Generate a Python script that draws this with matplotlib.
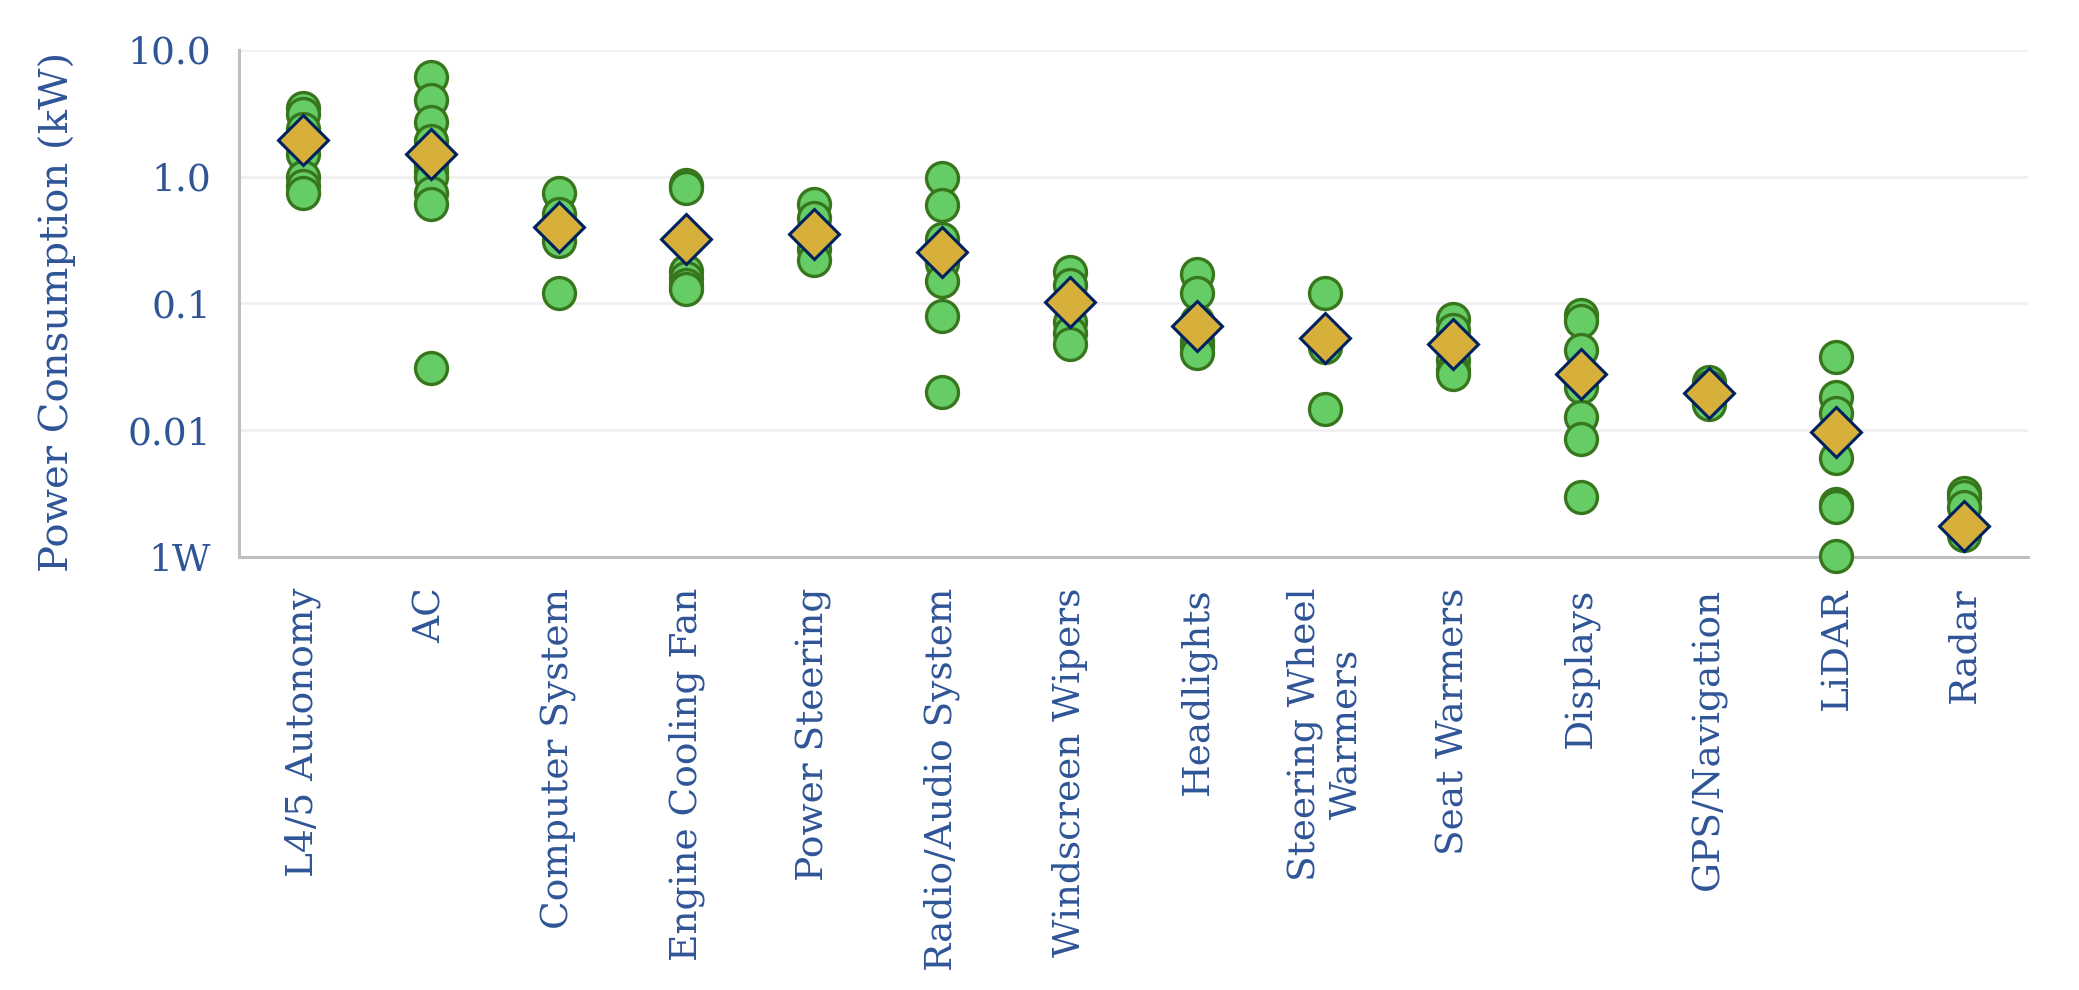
"""
Vehicle subsystem power draw, log scale.

Green circles are individual estimates for each subsystem, the gold
diamond is the central (average) value used in the model.
"""

import matplotlib
matplotlib.use("Agg")
import matplotlib.pyplot as plt

TEXT_BLUE   = "#2F5597"
DOT_FILL    = "#66CC66"
DOT_EDGE    = "#38761D"
AVG_FILL    = "#D6B03A"
AVG_EDGE    = "#002060"
GRID_GREY   = "#F0F0F0"
SPINE_GREY  = "#BFBFBF"

plt.rcParams["font.family"] = ["DejaVu Serif"]

categories = [
    "L4/5 Autonomy", "AC", "Computer System", "Engine Cooling Fan",
    "Power Steering", "Radio/Audio System", "Windscreen Wipers",
    "Headlights", "Steering Wheel\nWarmers", "Seat Warmers", "Displays",
    "GPS/Navigation", "LiDAR", "Radar",
]

# individual estimates (kW)
l45_autonomy   = [3.5, 3.1, 2.4, 1.8, 1.5, 1.0, 0.85, 0.75]
air_con        = [6.1, 4.0, 2.7, 1.9, 1.25, 1.1, 1.0, 0.74, 0.61, 0.031]
computer       = [0.75, 0.51, 0.31, 0.12]
cooling_fan    = [0.86, 0.81, 0.18, 0.16, 0.14, 0.13]
power_steering = [0.61, 0.47, 0.36, 0.27, 0.22]
radio_audio    = [0.97, 0.60, 0.32, 0.21, 0.15, 0.080, 0.020]
wipers         = [0.177, 0.139, 0.10, 0.071, 0.059, 0.048]
headlights     = [0.172, 0.121, 0.073, 0.051, 0.046, 0.041]
wheel_warmers  = [0.121, 0.045, 0.0147]
seat_warmers   = [0.076, 0.062, 0.050, 0.036, 0.030, 0.0277]
displays       = [0.081, 0.073, 0.043, 0.022, 0.0127, 0.0086, 0.0030]
gps_nav        = [0.024, 0.022, 0.020, 0.018, 0.016]
lidar          = [0.0375, 0.0183, 0.0136, 0.0060, 0.00264, 0.0025, 0.00101]
radar          = [0.0032, 0.0030, 0.0025, 0.0018, 0.0015]

# central value per subsystem (kW)
averages = [1.95, 1.5, 0.40, 0.32, 0.356, 0.255, 0.102, 0.066,
            0.053, 0.048, 0.028, 0.0197, 0.0096, 0.00176]

ytick_values = [10.0, 1.0, 0.1, 0.01, 0.001]
ytick_labels = ["10.0", "1.0", "0.1", "0.01", "1W"]


def main() -> None:
    estimates = [l45_autonomy, air_con, computer, cooling_fan, power_steering,
                 radio_audio, wipers, headlights, wheel_warmers, seat_warmers,
                 displays, gps_nav, lidar, radar]

    fig = plt.figure(figsize=(20.79, 9.9), dpi=100)
    ax = fig.add_axes([0.115, 0.4374, 0.8605, 0.5121])

    for i, vals in enumerate(estimates):
        ax.plot([i] * len(vals), vals, linestyle="none", marker="o",
                markersize=23, markerfacecolor=DOT_FILL,
                markeredgecolor=DOT_EDGE, markeredgewidth=2.4,
                zorder=3, clip_on=False)

    ax.plot(range(len(averages)), averages, linestyle="none", marker="D",
            markersize=25, markerfacecolor=AVG_FILL, markeredgecolor=AVG_EDGE,
            markeredgewidth=2.2, zorder=4, clip_on=False)

    ax.set_yscale("log")
    ax.set_ylim(0.001, 10)
    ax.set_xlim(-0.5, len(categories) - 0.5)
    ax.set_yticks(ytick_values)
    ax.set_yticklabels(ytick_labels)
    ax.minorticks_off()
    ax.set_xticks(range(len(categories)))
    ax.set_xticklabels(categories, rotation=90, multialignment="center")

    ax.tick_params(axis="both", length=0, labelcolor=TEXT_BLUE)
    ax.tick_params(axis="x", labelsize=27, pad=22)
    ax.tick_params(axis="y", labelsize=27, pad=20)
    ax.set_ylabel("Power Consumption (kW)", color=TEXT_BLUE, fontsize=29)
    ax.yaxis.set_label_coords(-0.091, 0.483)

    ax.grid(axis="y", color=GRID_GREY, linewidth=2, zorder=0)
    ax.set_axisbelow(True)
    for side in ("top", "right"):
        ax.spines[side].set_visible(False)
    for side in ("left", "bottom"):
        ax.spines[side].set_color(SPINE_GREY)
        ax.spines[side].set_linewidth(2.2)

    fig.savefig("out.png", dpi=100)
    plt.close(fig)


if __name__ == "__main__":
    main()
